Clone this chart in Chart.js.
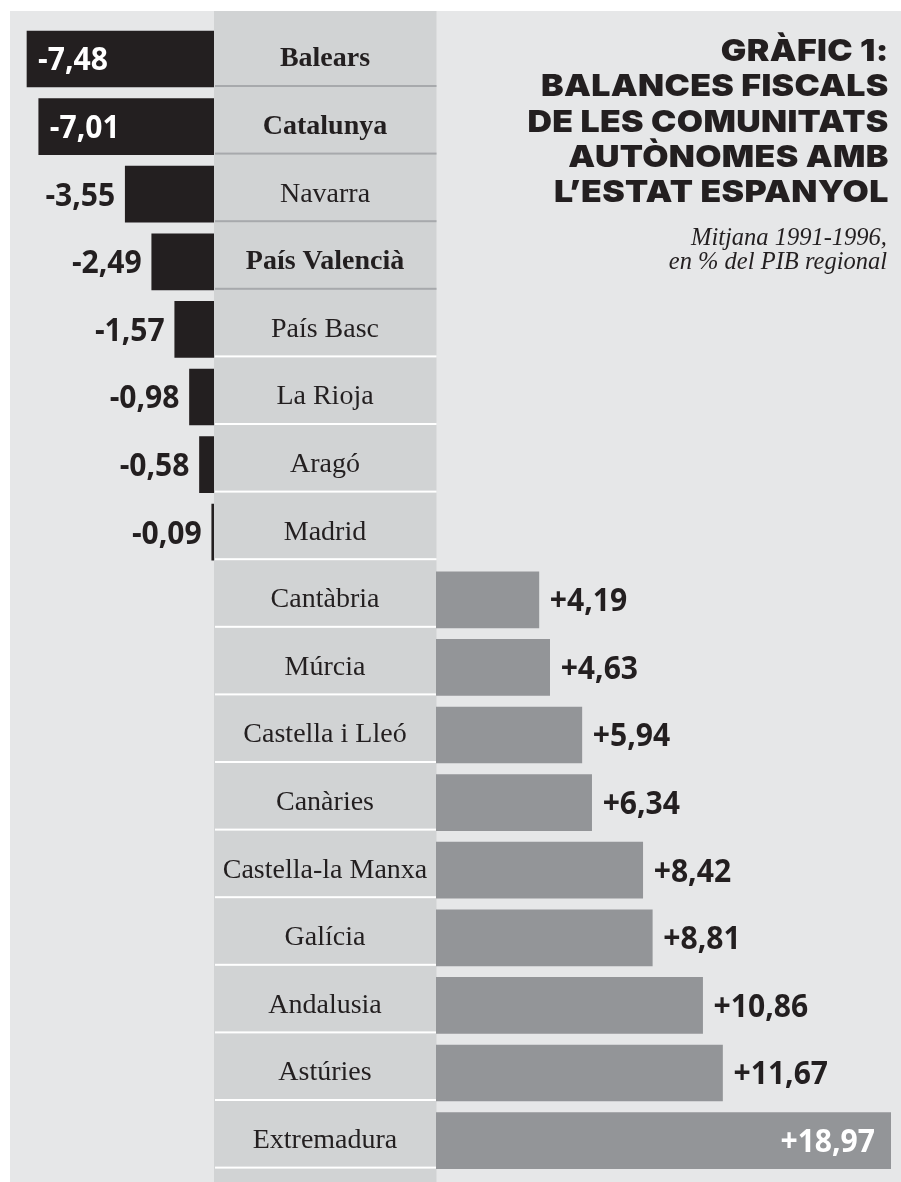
<!DOCTYPE html>
<html>
<head>
<meta charset="utf-8">
<script src="https://cdn.jsdelivr.net/npm/chart.js@4.4.1/dist/chart.umd.min.js"></script>
<style>
  html, body { margin: 0; padding: 0; background: #ffffff; }
  body { width: 901px; height: 1182px; position: relative; overflow: hidden; }
  #panel { position: absolute; left: 10px; top: 11px; right: 0; bottom: 0; background: #e6e7e8; }
  #cLeft { position: absolute; left: 0; top: 0; }
  #cRight { position: absolute; left: 214px; top: 0; }
  #title {
    position: absolute; right: 12px; top: 33px; text-align: right;
    font-family: "Inter", "Lato", sans-serif; font-weight: 900; font-size: 30px;
    letter-spacing: 0.3px;
    transform: scaleX(1.13); transform-origin: right top;
    line-height: 35.3px; color: #231f20; white-space: nowrap; z-index: 5;
  }
  #subtitle {
    position: absolute; right: 14px; top: 225px; text-align: right;
    font-family: "Liberation Serif", serif; font-style: italic; font-size: 24.5px;
    line-height: 24px; color: #231f20; white-space: nowrap; z-index: 5;
  }
</style>
</head>
<body>
<div id="panel"></div>
<canvas id="cLeft" width="214" height="1182"></canvas>
<canvas id="cRight" width="687" height="1182"></canvas>
<div id="title">GRÀFIC 1:<br>BALANCES FISCALS<br>DE LES COMUNITATS<br>AUTÒNOMES AMB<br>L’ESTAT ESPANYOL</div>
<div id="subtitle">Mitjana 1991-1996,<br>en % del PIB regional</div>
<script>
// ---- data ----
const regions = ['Balears', 'Catalunya', 'Navarra', 'País Valencià', 'País Basc', 'La Rioja', 'Aragó', 'Madrid',
  'Cantàbria', 'Múrcia', 'Castella i Lleó', 'Canàries', 'Castella-la Manxa', 'Galícia', 'Andalusia', 'Astúries', 'Extremadura'];
const balances = [-7.48, -7.01, -3.55, -2.49, -1.57, -0.98, -0.58, -0.09,
  4.19, 4.63, 5.94, 6.34, 8.42, 8.81, 10.86, 11.67, 18.97];
const boldRegions = ['Balears', 'Catalunya', 'País Valencià'];

const deficit = balances.map(v => (v < 0 ? v : null));
const surplus = balances.map(v => (v > 0 ? v : null));

// ---- styling constants ----
const INK = '#231f20';
const LABEL_FONT = "'Liberation Serif', serif";
const LABEL_SIZE = 28;
const VAL_FONT_SIZE = 32;
const VAL_SX = 0.94;
const VAL_CAP = 0.714 * VAL_FONT_SIZE;
const PAD = { top: 25.2, bottom: 7.6 };
const COL_W = 222;

function fmt(v) { return (v > 0 ? '+' : '') + v.toFixed(2).replace('.', ','); }

const valueLabels = {
  id: 'valueLabels',
  afterDatasetsDraw(chart) {
    const ctx = chart.ctx, area = chart.chartArea;
    const meta = chart.getDatasetMeta(0);
    const data = chart.data.datasets[0].data;
    ctx.save();
    ctx.font = `700 ${VAL_FONT_SIZE}px 'Open Sans', sans-serif`;
    ctx.textBaseline = 'alphabetic';
    ctx.textAlign = 'left';
    meta.data.forEach((bar, i) => {
      const v = data[i];
      if (v === null || v === undefined) return;
      const txt = fmt(v);
      const w = ctx.measureText(txt).width * VAL_SX;
      const yb = bar.y + VAL_CAP / 2;
      let x, inside;
      if (v < 0) {
        const end = bar.x;
        if (end - 10 - w >= area.left + 10) { x = end - 10 - w; inside = false; }
        else { x = end + 11; inside = true; }
      } else {
        const end = Math.min(bar.x, area.right);
        if (end + 11 + w <= area.right) { x = end + 11; inside = false; }
        else { x = end - 16 - w; inside = true; }
      }
      ctx.fillStyle = inside ? '#ffffff' : INK;
      ctx.save();
      ctx.translate(x, yb);
      ctx.scale(VAL_SX, 1);
      ctx.fillText(txt, 0, 0);
      ctx.restore();
    });
    ctx.restore();
  }
};

const labelColumn = {
  id: 'labelColumn',
  beforeDraw(chart) {
    const ctx = chart.ctx, y = chart.scales.y;
    ctx.save();
    ctx.fillStyle = '#d1d3d4';
    ctx.fillRect(0, 11, COL_W + 0.5, chart.height - 11);
    regions.forEach((r, i) => {
      const py = y.getPixelForValue(i) + 27;
      ctx.fillStyle = i < 4 ? '#a7a9ac' : '#ffffff';
      ctx.fillRect(1, py - 1, COL_W - 0.5, 2);
    });
    ctx.restore();
  }
};

// widest label for centring the tick text in the column
const mctx = document.createElement('canvas').getContext('2d');
let widest = 0;
regions.forEach(r => {
  mctx.font = (boldRegions.includes(r) ? 'bold ' : '') + LABEL_SIZE + 'px ' + LABEL_FONT;
  widest = Math.max(widest, mctx.measureText(r).width);
});
const tickPad = COL_W / 2 - widest / 2;

const PX_NEG = 25.0, PX_POS = 24.55;

new Chart(document.getElementById('cLeft'), {
  type: 'bar',
  data: { labels: regions, datasets: [{ data: deficit, backgroundColor: INK, barThickness: 56, borderWidth: 0, clip: 0 }] },
  options: {
    indexAxis: 'y', responsive: false, animation: false,
    layout: { autoPadding: false, padding: { top: PAD.top, bottom: PAD.bottom, left: 0, right: 0 } },
    plugins: { legend: { display: false }, tooltip: { enabled: false } },
    scales: {
      x: { display: false, min: -214 / PX_NEG, max: 0 },
      y: { display: false }
    }
  },
  plugins: [valueLabels]
});

new Chart(document.getElementById('cRight'), {
  type: 'bar',
  data: { labels: regions, datasets: [{ data: surplus, backgroundColor: '#939598', barThickness: 56, borderWidth: 0, clip: 0 }] },
  options: {
    indexAxis: 'y', responsive: false, animation: false,
    layout: { autoPadding: false, padding: { top: PAD.top, bottom: PAD.bottom, left: 0, right: 10 } },
    plugins: { legend: { display: false }, tooltip: { enabled: false } },
    scales: {
      x: { display: false, min: 0, max: (687 - 10 - COL_W) / PX_POS },
      y: {
        position: 'left',
        afterFit: s => { s.width = COL_W; s.paddingTop = 0; s.paddingBottom = 0; },
        grid: { display: false, drawTicks: false },
        border: { display: false },
        ticks: {
          padding: tickPad, crossAlign: 'center', color: INK, autoSkip: false,
          font: c => ({ family: LABEL_FONT, size: LABEL_SIZE,
            weight: boldRegions.includes(regions[c.index]) ? 'bold' : 'normal' })
        }
      }
    }
  },
  plugins: [labelColumn, valueLabels]
});
</script>
</body>
</html>
